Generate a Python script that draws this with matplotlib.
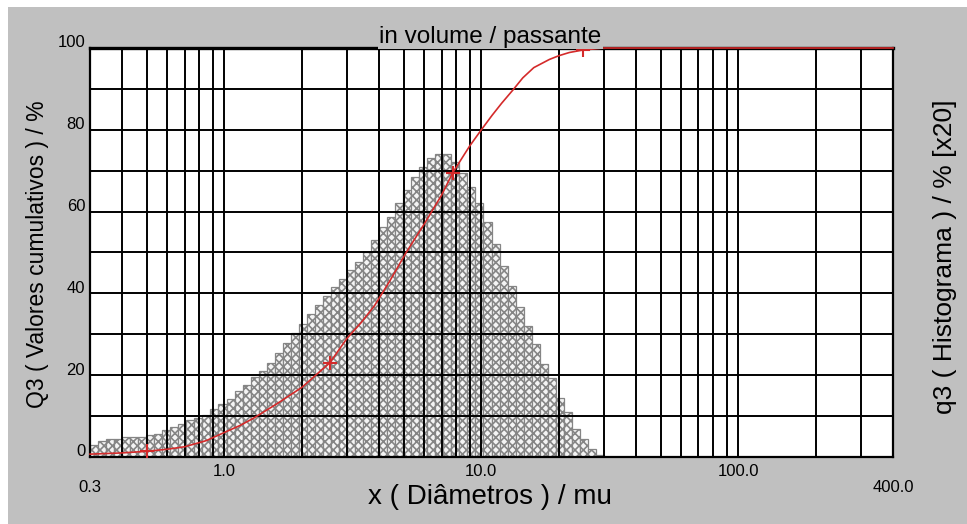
import numpy as np
import matplotlib
matplotlib.use("Agg")
import matplotlib.pyplot as plt
from matplotlib.patches import Rectangle

plt.rcParams['font.family'] = ['Liberation Sans', 'DejaVu Sans']
plt.rcParams['hatch.linewidth'] = 1.2

# histogram q3 (channels 0.3 .. 30 mu), read on the left 0-100 scale
q3_hist = [2.9, 4.0, 4.4, 4.5, 4.8, 4.9, 5.0, 5.3, 5.7, 6.6,
           7.4, 8.0, 9.1, 9.6, 10.3, 11.7, 13.0, 14.3, 16.2, 17.7,
           19.5, 21.1, 22.9, 25.4, 27.9, 30.3, 32.6, 35.0, 37.1, 39.3,
           41.5, 43.6, 45.8, 47.6, 50.0, 53.0, 56.3, 58.7, 62.0, 65.2,
           68.5, 70.9, 73.0, 74.0, 74.0, 72.1, 69.4, 66.0, 62.0, 57.4,
           52.2, 46.8, 41.9, 36.6, 32.1, 27.7, 22.7, 19.4, 14.5, 10.9,
           6.9, 4.4, 2.0, 0.5]
d_min, d_max = 0.3, 30.0

# cumulative Q3 curve
cum_x = [0.3, 0.4, 0.5, 0.6, 0.7, 0.85, 1.0, 1.15, 1.3, 1.6, 2.0, 2.57, 3.0,
         3.4, 3.84, 4.4, 5.1, 6.0, 7.0, 7.74, 9.0, 10.0, 11.0, 12.0, 13.3,
         14.5, 16.0, 18.4, 20.0, 22.0, 24.8, 30.0, 400.0]
cum_q3 = [0.7, 1.0, 1.4, 1.9, 2.5, 4.0, 6.0, 7.7, 9.5, 13.0, 17.0, 23.0, 29.0,
          32.8, 37.0, 43.0, 50.0, 57.0, 64.0, 69.5, 76.0, 80.0, 83.5, 86.5, 89.8,
          92.7, 95.2, 97.2, 98.1, 98.9, 99.5, 100.0, 100.0]
mark_x = [0.5, 2.57, 7.74, 24.8]
mark_q3 = [1.4, 23.0, 69.5, 99.5]

y_ticks = [0, 20, 40, 60, 80, 100]
x_labels_hi = [(1.0, '1.0'), (10.0, '10.0'), (100.0, '100.0')]
x_labels_lo = [(0.3, '0.3'), (400.0, '400.0')]

W, H = 967, 524
fig = plt.figure(figsize=(W / 100, H / 100), dpi=100, facecolor='white')
fig.patches.append(Rectangle((8 / W, 0), 1, 1 - 7 / H, transform=fig.transFigure,
                             facecolor='#c0c0c0', edgecolor='none', zorder=-10))

ax = fig.add_axes([90 / W, 1 - 457 / H, (893 - 90) / W, (457 - 48) / H])
ax.set_facecolor('white')
ax.set_xscale('log')
ax.set_xlim(0.3, 400)
ax.set_ylim(0, 100)

edges = np.geomspace(d_min, d_max, len(q3_hist) + 1)
ax.bar(edges[:-1], q3_hist, width=np.diff(edges), align='edge',
       facecolor='#f4f4f4', edgecolor='#858585', hatch='xxxx', linewidth=0.9, zorder=1)

# grid drawn over the histogram
grid_x = [v * 10.0 ** e for e in range(-1, 3) for v in range(1, 10)]
grid_x = [g for g in grid_x if 0.3 < g < 400]
for g in grid_x:
    ax.axvline(g, color='black', lw=1.4, zorder=2)
for g in range(10, 100, 10):
    ax.axhline(g, color='black', lw=1.4, zorder=2)

ax.plot(cum_x, cum_q3, color='#d42a2a', lw=1.2, zorder=4, clip_on=False)
ax.plot(mark_x, mark_q3, '+', color='#d42a2a', ms=10, mew=1.5, zorder=4, clip_on=False)

for s in ax.spines.values():
    s.set_color('black')
    s.set_linewidth(1.6)
ax.spines['top'].set_linewidth(2.4)
ax.tick_params(which='both', length=0, labelbottom=False, labelleft=False)
ax.minorticks_off()

for v in y_ticks:
    ax.annotate(str(v), xy=(0, v), xycoords=('axes fraction', 'data'),
                xytext=(-3.5, 0.5), textcoords='offset points',
                ha='right', va='baseline', fontsize=12)
for v, s in x_labels_hi:
    ax.annotate(s, xy=(v, 0), xycoords=('data', 'axes fraction'),
                xytext=(0, -10.8), textcoords='offset points',
                ha='center', va='center', fontsize=12)
for v, s in x_labels_lo:
    ax.annotate(s, xy=(v, 0), xycoords=('data', 'axes fraction'),
                xytext=(0, -22.3), textcoords='offset points',
                ha='center', va='center', fontsize=12)

# title box hides the top frame behind the text
fig.patches.append(Rectangle((378 / W, 1 - 48.5 / H), (603 - 378) / W, 30 / H,
                             transform=fig.transFigure, facecolor='#c0c0c0',
                             edgecolor='none', zorder=5))
fig.text(490 / W, 1 - 43 / H, 'in volume / passante', ha='center', va='baseline',
         fontsize=17.5, zorder=6)

fig.text(490 / W, 1 - 497 / H, 'x ( Diâmetros ) / mu', ha='center', va='center', fontsize=20)
fig.text(38 / W, 1 - 254 / H, 'Q3 ( Valores cumulativos ) / %', rotation=90,
         ha='center', va='center', fontsize=16.5)
fig.text(945 / W, 1 - 257 / H, 'q3 ( Histograma ) / % [x20]', rotation=90,
         ha='center', va='center', fontsize=19)

fig.savefig('out.png', dpi=100, facecolor=fig.get_facecolor())
